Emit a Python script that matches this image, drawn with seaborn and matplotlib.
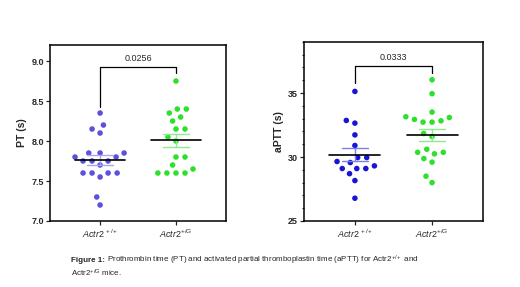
import numpy as np
import pandas as pd
import matplotlib
matplotlib.use("Agg")
import matplotlib.pyplot as plt
from matplotlib.ticker import MultipleLocator
import seaborn as sns

groups = ["WT", "KI"]
tick_labels = [r"$\mathit{Actr2}^{\,+/+}$", r"$\mathit{Actr2}^{+/G}$"]

pt_wt = [8.35, 8.2, 8.15, 8.1, 7.85, 7.85, 7.85, 7.8, 7.8, 7.75, 7.75, 7.75,
         7.7, 7.6, 7.6, 7.6, 7.6, 7.55, 7.3, 7.2]
pt_ki = [8.75, 8.4, 8.4, 8.35, 8.3, 8.25, 8.15, 8.15, 8.05, 8.0, 7.8, 7.8,
         7.7, 7.65, 7.6, 7.6, 7.6, 7.6]
aptt_wt = [35.13, 32.65, 32.86, 31.73, 30.9, 29.96, 29.96, 29.57, 29.65, 29.31,
           29.1, 29.1, 29.1, 28.7, 28.16, 26.78]
aptt_ki = [36.04, 34.95, 33.51, 33.09, 33.15, 32.73, 32.73, 32.94, 32.83, 31.84,
           31.6, 30.61, 30.25, 30.37, 30.37, 29.88, 29.6, 28.5, 28.0]

p_values = ["0.0256", "0.0333"]

sns.set_style("ticks")
plt.rcParams["font.family"] = ["Liberation Sans", "DejaVu Sans"]
plt.rcParams["mathtext.fontset"] = "custom"
plt.rcParams["mathtext.rm"] = "Liberation Sans"
plt.rcParams["mathtext.it"] = "Liberation Sans:italic"
plt.rcParams["mathtext.bf"] = "Liberation Sans:bold"


def make_df(wt, ki):
    return pd.DataFrame({"group": ["WT"] * len(wt) + ["KI"] * len(ki),
                         "value": wt + ki})


def draw_panel(ax, df, colors, light, ylim, major, minor, ylabel, pval, bracket):
    sns.swarmplot(data=df, x="group", y="value", hue="group", order=groups,
                  palette=dict(zip(groups, colors)), size=4.0, edgecolor="none",
                  linewidth=2.2, legend=False, ax=ax, zorder=3)
    stats = df.groupby("group")["value"].agg(["mean", "sem"]).reindex(groups)
    for i, g in enumerate(groups):
        m, se = stats.loc[g, "mean"], stats.loc[g, "sem"]
        ax.plot([i, i], [m - se, m + se], color=light[i], lw=1, zorder=4)
        ax.plot([i - 0.17, i + 0.17], [m - se, m - se], color=light[i], lw=1, zorder=4)
        ax.plot([i - 0.17, i + 0.17], [m + se, m + se], color=light[i], lw=1, zorder=4)
        ax.plot([i - 0.33, i + 0.33], [m, m], color="black", lw=1.2, zorder=5)
    y_left, y_right, y_top, y_text = bracket
    ax.plot([0, 0, 1, 1], [y_left, y_top, y_top, y_right], color="black", lw=0.9)
    ax.text(0.5, y_text, pval, ha="center", va="center", fontsize=6.5)
    ax.set_xlim(-0.66, 1.66)
    ax.set_ylim(*ylim)
    ax.yaxis.set_major_locator(MultipleLocator(major))
    if minor:
        ax.yaxis.set_minor_locator(MultipleLocator(minor))
        ax.tick_params(axis="y", which="minor", length=1.8, width=0.8)
    ax.set_xticks([0, 1])
    ax.set_xticklabels(tick_labels, fontsize=6.5)
    ax.set_xlabel("")
    ax.set_ylabel(ylabel, fontsize=7.5, fontweight="bold", labelpad=3)
    ax.tick_params(axis="both", which="major", length=3, width=0.9, pad=1.5)
    ax.tick_params(axis="y", labelsize=6.5)
    for lab in ax.get_yticklabels():
        lab.set_fontweight("bold")
    for sp in ax.spines.values():
        sp.set_linewidth(1.1)
        sp.set_color("black")


fig = plt.figure(figsize=(5.2, 2.87), dpi=100)
ax1 = fig.add_axes([0.0962, 0.230, 0.3385, 0.613])
ax2 = fig.add_axes([0.5846, 0.230, 0.3442, 0.624])

draw_panel(ax1, make_df(pt_wt, pt_ki), ["#5b51dc", "#2ce02c"], ["#aaa4f0", "#8deb8d"],
           (7.0, 9.2), 0.5, None, "PT (s)", p_values[0], (8.43, 8.85, 8.92, 9.03))
draw_panel(ax2, make_df(aptt_wt, aptt_ki), ["#1616d4", "#2ce02c"], ["#7f7fe8", "#8deb8d"],
           (25, 39), 5, 1, "aPTT (s)", p_values[1], (35.8, 36.6, 37.1, 37.75))

# caption: bold lead-in, then the rest placed right after it
cap_x, cap_y1, cap_y2, cap_fs = 71 / 520, 1 - 260 / 287, 1 - 273 / 287, 5.8
lead = fig.text(cap_x, cap_y1, "Figure 1:", fontsize=cap_fs, fontweight="bold",
                ha="left", va="center")
fig.canvas.draw()
bb = lead.get_window_extent().transformed(fig.transFigure.inverted())
fig.text(bb.x1 + 2.5 / 520, cap_y1,
         r"Prothrombin time (PT) and activated partial thromboplastin time (aPTT) for "
         r"Actr2$^{+/+}$ and", fontsize=cap_fs, ha="left", va="center")
fig.text(cap_x, cap_y2, r"Actr2$^{+/G}$ mice.", fontsize=cap_fs, ha="left", va="center")

fig.savefig("out.png", dpi=100)
